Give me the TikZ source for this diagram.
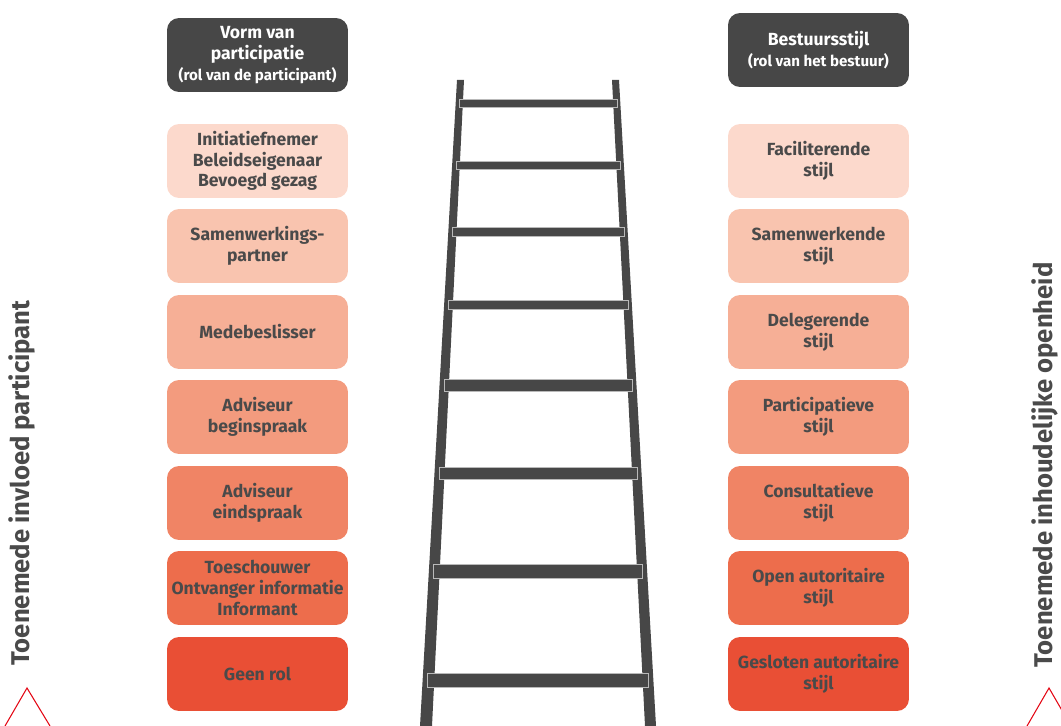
\documentclass[tikz,border=0pt]{standalone}
\usepackage{fontspec}
\setmainfont{Fira Sans}
\usetikzlibrary{positioning}

\definecolor{darkbox}{HTML}{474747}
\definecolor{textgray}{HTML}{4A4A4A}
\definecolor{stepA}{HTML}{FCD9CC}
\definecolor{stepB}{HTML}{F9C4AF}
\definecolor{stepC}{HTML}{F6AF96}
\definecolor{stepD}{HTML}{F39B7E}
\definecolor{stepE}{HTML}{F08465}
\definecolor{stepF}{HTML}{ED6D4C}
\definecolor{stepG}{HTML}{E94F35}
\definecolor{arrowred}{HTML}{E30613}

\newcommand{\subline}[1]{{\fontsize{8.6}{10}\selectfont #1}}

\begin{document}
\begin{tikzpicture}[
  x=0.02cm, y=-0.02cm,
  box/.style={rounded corners=0.24cm, minimum width=3.62cm, minimum height=1.48cm,
    align=center, inner sep=0pt, text=textgray, font=\fontsize{10}{11.8}\selectfont\bfseries},
  head/.style={box, fill=darkbox, text=white},
  side/.style={text=textgray, font=\fontsize{14.6}{16}\selectfont\bfseries, rotate=90},
  rail/.style={fill=darkbox},
  rung/.style={fill=darkbox, draw=gray!55, line width=0.25pt},
  peak/.style={draw=arrowred, line width=0.6pt}
]
\useasboundingbox (0,0) rectangle (1061,726);

% Ladder
\fill[rail] (457,80) -- (464,80) -- (432,726) -- (420,726) -- cycle;
\fill[rail] (612,80) -- (619,80) -- (656,726) -- (645,726) -- cycle;
\draw[rung] (459,99) rectangle (617,107);
\draw[rung] (456,161) rectangle (620,169);
\draw[rung] (452,227) rectangle (624,236);
\draw[rung] (448,300) rectangle (628,309);
\draw[rung] (444,379) rectangle (632,391);
\draw[rung] (439,467) rectangle (637,479);
\draw[rung] (433,564) rectangle (642,578);
\draw[rung] (427,673) rectangle (648,687);

% Left column
\node[head] (vorm) at (257.5,55) {Vorm van\\participatie\\\subline{(rol van de participant)}};
\node[box, fill=stepA] (initiatief) at (257.5,161) {Initiatiefnemer\\Beleidseigenaar\\Bevoegd gezag};
\node[box, fill=stepB] (samenwerk) at (257.5,246) {Samenwerkings-\\partner};
\node[box, fill=stepC] (medebesl) at (257.5,332) {Medebeslisser};
\node[box, fill=stepD] (begin) at (257.5,417) {Adviseur\\beginspraak};
\node[box, fill=stepE] (eind) at (257.5,503) {Adviseur\\eindspraak};
\node[box, fill=stepF] (toeschouwer) at (257.5,588) {Toeschouwer\\Ontvanger informatie\\Informant};
\node[box, fill=stepG] (geen) at (257.5,674) {Geen rol};

% Right column
\node[head] (bestuur) at (818.5,50) {Bestuursstijl\\\subline{(rol van het bestuur)}};
\node[box, fill=stepA] (facil) at (818.5,161) {Faciliterende\\stijl};
\node[box, fill=stepB] (samenwerkend) at (818.5,246) {Samenwerkende\\stijl};
\node[box, fill=stepC] (deleg) at (818.5,332) {Delegerende\\stijl};
\node[box, fill=stepD] (partic) at (818.5,417) {Participatieve\\stijl};
\node[box, fill=stepE] (consult) at (818.5,503) {Consultatieve\\stijl};
\node[box, fill=stepF] (openaut) at (818.5,588) {Open autoritaire\\stijl};
\node[box, fill=stepG] (geslaut) at (818.5,674) {Gesloten autoritaire\\stijl};

% Side labels
\node[side] (invloed) at (22,483) {Toenemede invloed participant};
\node[side] (openheid) at (1045,465) {Toenemede inhoudelijke openheid};

% Triangles
\coordinate (ltop) at (27,688);
\coordinate (rtop) at (1049,688);
\draw[peak] (5,726) -- (ltop) -- (50,726);
\draw[peak] (1027,726) -- (rtop) -- (1071,726);

\end{tikzpicture}
\end{document}
